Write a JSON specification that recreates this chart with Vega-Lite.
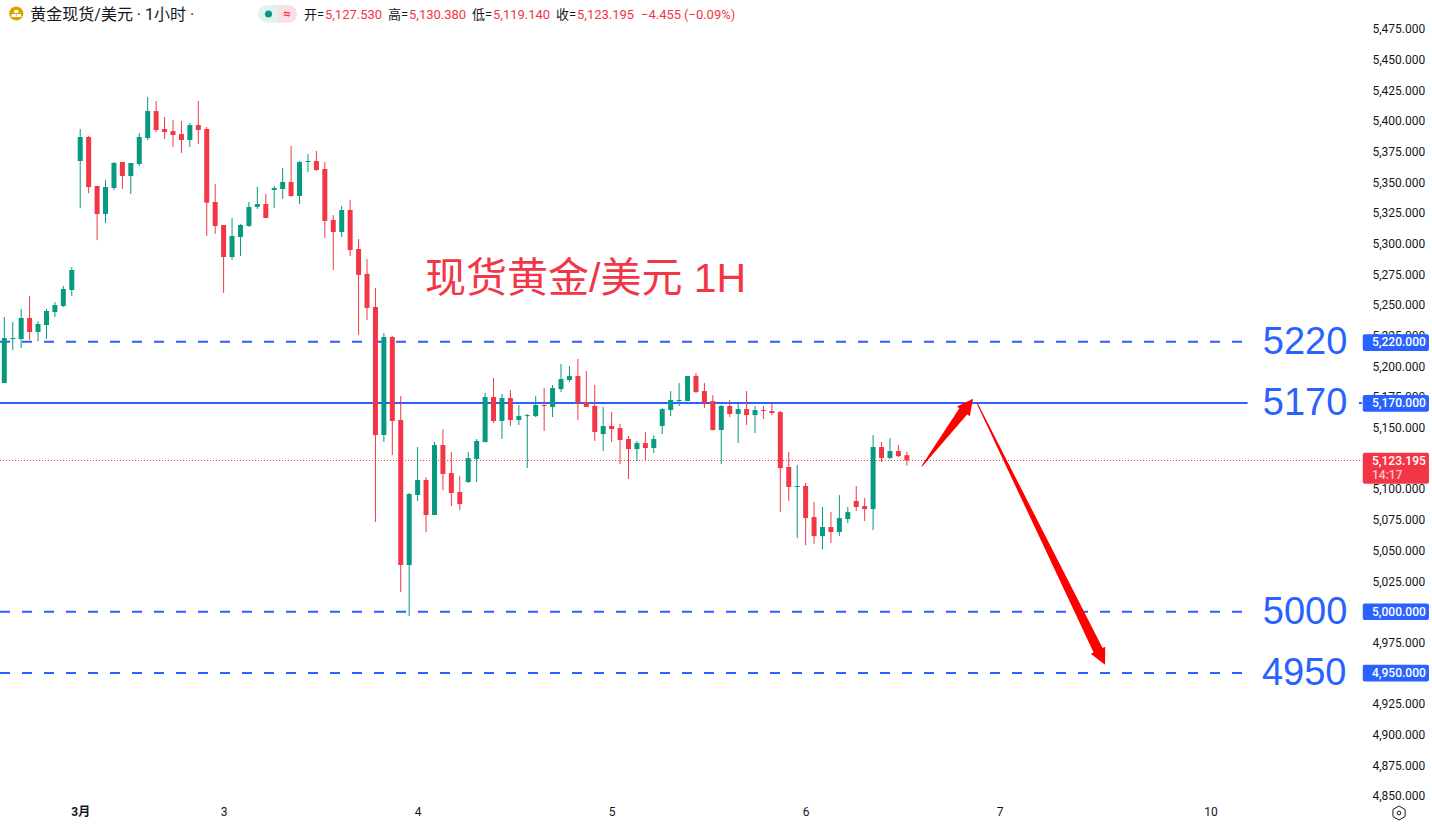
{"$schema":"https://vega.github.io/schema/vega-lite/v6.json","width":1362,"height":800,"autosize":"none","padding":{"left":0,"top":0,"right":70,"bottom":27},"background":"#ffffff","view":{"stroke":null},"config":{"text":{"font":"Roboto"},"axis":{"labelOverlap":false}},"resolve":{"axis":{"y":"independent"}},
"datasets":{"candles":[
{"i":0,"o":5186.3,"h":5240.1,"l":5186.3,"c":5223.0},{"i":1,"o":5222.2,"h":5236.0,"l":5213.2,"c":5223.0},{"i":2,"o":5222.2,"h":5246.6,"l":5214.8,"c":5239.3},{"i":3,"o":5239.3,"h":5257.2,"l":5221.4,"c":5227.9},{"i":4,"o":5227.9,"h":5236.8,"l":5220.5,"c":5234.4},{"i":5,"o":5233.6,"h":5246.6,"l":5222.2,"c":5245.0},{"i":6,"o":5244.2,"h":5252.3,"l":5240.1,"c":5249.9},{"i":7,"o":5249.1,"h":5265.4,"l":5248.2,"c":5262.9},{"i":8,"o":5262.1,"h":5280.8,"l":5257.2,"c":5278.4},{"i":9,"o":5367.2,"h":5393.3,"l":5328.9,"c":5386.8},
{"i":10,"o":5386.8,"h":5387.6,"l":5341.1,"c":5346.0},{"i":11,"o":5346.8,"h":5346.8,"l":5302.8,"c":5324.0},{"i":12,"o":5324.0,"h":5351.7,"l":5316.7,"c":5346.0},{"i":13,"o":5345.2,"h":5366.4,"l":5343.6,"c":5365.6},{"i":14,"o":5366.4,"h":5366.4,"l":5344.4,"c":5355.0},{"i":15,"o":5355.0,"h":5365.6,"l":5340.3,"c":5365.6},{"i":16,"o":5364.8,"h":5390.0,"l":5363.1,"c":5386.8},{"i":17,"o":5385.9,"h":5419.3,"l":5384.3,"c":5407.9},{"i":18,"o":5407.9,"h":5416.1,"l":5390.8,"c":5392.5},{"i":19,"o":5393.3,"h":5403.1,"l":5385.1,"c":5390.8},
{"i":20,"o":5391.6,"h":5400.6,"l":5378.6,"c":5388.4},{"i":21,"o":5389.2,"h":5399.8,"l":5373.7,"c":5384.3},{"i":22,"o":5384.3,"h":5398.2,"l":5378.6,"c":5396.5},{"i":23,"o":5396.5,"h":5416.1,"l":5381.1,"c":5392.5},{"i":24,"o":5393.3,"h":5394.9,"l":5306.1,"c":5333.3},{"i":25,"o":5333.8,"h":5348.5,"l":5307.8,"c":5314.3},{"i":26,"o":5315.1,"h":5315.1,"l":5259.7,"c":5289.0},{"i":27,"o":5289.0,"h":5320.8,"l":5286.6,"c":5306.1},{"i":28,"o":5305.3,"h":5315.9,"l":5289.8,"c":5315.1},{"i":29,"o":5314.3,"h":5333.8,"l":5313.5,"c":5329.8},
{"i":30,"o":5329.8,"h":5346.1,"l":5328.1,"c":5332.2},{"i":31,"o":5332.2,"h":5340.4,"l":5320.8,"c":5320.8},{"i":32,"o":5343.6,"h":5346.9,"l":5329.0,"c":5345.2},{"i":33,"o":5344.4,"h":5361.5,"l":5336.3,"c":5350.1},{"i":34,"o":5350.1,"h":5379.5,"l":5337.9,"c":5338.7},{"i":35,"o":5338.7,"h":5367.2,"l":5332.2,"c":5366.4},{"i":36,"o":5366.4,"h":5372.9,"l":5358.3,"c":5367.2},{"i":37,"o":5367.2,"h":5375.4,"l":5359.1,"c":5359.9},{"i":38,"o":5360.7,"h":5366.4,"l":5304.5,"c":5318.4},{"i":39,"o":5319.2,"h":5323.2,"l":5278.4,"c":5309.4},
{"i":40,"o":5309.4,"h":5330.6,"l":5305.3,"c":5327.3},{"i":41,"o":5327.3,"h":5335.5,"l":5289.8,"c":5294.7},{"i":42,"o":5295.5,"h":5303.7,"l":5225.5,"c":5274.4},{"i":43,"o":5275.2,"h":5287.4,"l":5237.7,"c":5247.5},{"i":44,"o":5248.3,"h":5263.8,"l":5073.1,"c":5144.0},{"i":45,"o":5144.0,"h":5227.1,"l":5138.3,"c":5223.8},{"i":46,"o":5223.8,"h":5224.6,"l":5127.6,"c":5155.4},{"i":47,"o":5156.2,"h":5175.7,"l":5016.0,"c":5038.0},{"i":48,"o":5038.0,"h":5096.7,"l":4996.5,"c":5095.9},{"i":49,"o":5095.1,"h":5134.2,"l":5090.2,"c":5107.3},
{"i":50,"o":5107.3,"h":5109.7,"l":5064.9,"c":5078.8},{"i":51,"o":5078.8,"h":5138.2,"l":5078.8,"c":5135.8},{"i":52,"o":5135.8,"h":5148.8,"l":5099.1,"c":5112.2},{"i":53,"o":5113.0,"h":5130.1,"l":5086.1,"c":5096.7},{"i":54,"o":5097.5,"h":5110.5,"l":5082.8,"c":5087.7},{"i":55,"o":5105.7,"h":5130.1,"l":5104.8,"c":5125.2},{"i":56,"o":5124.4,"h":5140.7,"l":5105.7,"c":5139.1},{"i":57,"o":5138.2,"h":5178.2,"l":5138.2,"c":5174.9},{"i":58,"o":5174.9,"h":5190.4,"l":5153.7,"c":5155.4},{"i":59,"o":5155.4,"h":5177.4,"l":5140.7,"c":5174.1},
{"i":60,"o":5174.1,"h":5180.6,"l":5151.3,"c":5156.2},{"i":61,"o":5156.2,"h":5168.4,"l":5152.1,"c":5159.4},{"i":62,"o":5159.4,"h":5161.1,"l":5117.1,"c":5160.2},{"i":63,"o":5159.4,"h":5175.7,"l":5158.6,"c":5168.4},{"i":64,"o":5168.4,"h":5182.2,"l":5147.2,"c":5167.6},{"i":65,"o":5166.8,"h":5184.7,"l":5158.6,"c":5182.2},{"i":66,"o":5181.4,"h":5201.8,"l":5179.0,"c":5189.6},{"i":67,"o":5188.8,"h":5200.2,"l":5187.1,"c":5192.0},{"i":68,"o":5192.0,"h":5205.9,"l":5156.2,"c":5170.0},{"i":69,"o":5170.8,"h":5196.1,"l":5166.8,"c":5166.8},
{"i":70,"o":5167.6,"h":5184.7,"l":5139.1,"c":5146.4},{"i":71,"o":5144.8,"h":5166.8,"l":5130.9,"c":5151.3},{"i":72,"o":5151.3,"h":5162.7,"l":5138.2,"c":5148.8},{"i":73,"o":5149.6,"h":5152.9,"l":5120.3,"c":5139.9},{"i":74,"o":5140.7,"h":5143.1,"l":5108.1,"c":5132.5},{"i":75,"o":5132.5,"h":5139.1,"l":5122.8,"c":5137.4},{"i":76,"o":5137.4,"h":5146.4,"l":5123.6,"c":5133.4},{"i":77,"o":5133.4,"h":5143.9,"l":5129.3,"c":5140.7},{"i":78,"o":5151.3,"h":5165.9,"l":5144.8,"c":5165.1},{"i":79,"o":5164.3,"h":5179.8,"l":5159.4,"c":5172.5},
{"i":80,"o":5171.6,"h":5186.3,"l":5167.6,"c":5172.5},{"i":81,"o":5171.6,"h":5192.0,"l":5171.6,"c":5192.0},{"i":82,"o":5192.0,"h":5194.5,"l":5178.2,"c":5179.0},{"i":83,"o":5179.8,"h":5186.3,"l":5165.9,"c":5170.0},{"i":84,"o":5171.6,"h":5176.5,"l":5148.0,"c":5148.0},{"i":85,"o":5148.0,"h":5168.4,"l":5120.3,"c":5167.6},{"i":86,"o":5167.6,"h":5172.5,"l":5158.6,"c":5161.1},{"i":87,"o":5161.1,"h":5170.0,"l":5137.4,"c":5165.1},{"i":88,"o":5165.1,"h":5179.8,"l":5152.1,"c":5160.2},{"i":89,"o":5160.2,"h":5167.6,"l":5145.6,"c":5164.3},
{"i":90,"o":5164.3,"h":5167.6,"l":5157.0,"c":5163.5},{"i":91,"o":5163.5,"h":5170.8,"l":5160.2,"c":5161.9},{"i":92,"o":5162.7,"h":5163.5,"l":5081.2,"c":5117.0},{"i":93,"o":5117.9,"h":5130.1,"l":5090.2,"c":5101.6},{"i":94,"o":5101.6,"h":5119.5,"l":5060.0,"c":5102.4},{"i":95,"o":5102.4,"h":5104.8,"l":5054.3,"c":5076.3},{"i":96,"o":5077.1,"h":5089.3,"l":5055.1,"c":5061.6},{"i":97,"o":5061.6,"h":5085.3,"l":5051.0,"c":5069.0},{"i":98,"o":5069.0,"h":5081.2,"l":5055.9,"c":5064.9},{"i":99,"o":5064.9,"h":5095.0,"l":5061.6,"c":5076.3},
{"i":100,"o":5075.5,"h":5085.3,"l":5072.2,"c":5081.2},{"i":101,"o":5090.2,"h":5102.4,"l":5082.0,"c":5085.3},{"i":102,"o":5086.1,"h":5092.6,"l":5073.9,"c":5083.6},{"i":103,"o":5083.6,"h":5143.9,"l":5066.5,"c":5134.2},{"i":104,"o":5134.2,"h":5138.2,"l":5121.9,"c":5125.2},{"i":105,"o":5125.2,"h":5141.5,"l":5124.4,"c":5130.9},{"i":106,"o":5130.9,"h":5135.8,"l":5126.0,"c":5126.8},{"i":107,"o":5127.53,"h":5130.38,"l":5119.14,"c":5123.195}
]},
"layer":[
{"data":{"values":[{"p":5220,"a":-0.51,"b":146.85},{"p":5000,"a":-0.51,"b":146.85},{"p":4950,"a":-0.51,"b":146.85}]},"mark":{"type":"rule","color":"#2962ff","strokeWidth":2,"strokeDash":[10,12]},"encoding":{"x":{"field":"a","type":"quantitative","scale":{"domain":[-0.51,160.96],"nice":false,"zero":false,"padding":0},"axis":{"orient":"bottom","values":[9,26,49,72,95,118,143],"labelExpr":"datum.value==9?'3月':datum.value==26?'3':datum.value==49?'4':datum.value==72?'5':datum.value==95?'6':datum.value==118?'7':'10'","labelFontWeight":{"expr":"datum.value==9?'bold':'normal'"},"title":null,"domain":false,"ticks":false,"grid":false,"labelPadding":6,"labelFontSize":12,"labelFont":"Roboto, Noto Sans CJK SC","labelColor":"#131722"}},"x2":{"field":"b"},"y":{"field":"p","type":"quantitative","scale":{"domain":[4846.6,5498.4],"nice":false,"zero":false,"padding":0},"axis":{"orient":"right","values":[4850,4875,4900,4925,4950,4975,5000,5025,5050,5075,5100,5125,5150,5175,5200,5225,5250,5275,5300,5325,5350,5375,5400,5425,5450,5475,5500],"format":",.3f","title":null,"domain":false,"ticks":false,"grid":false,"labelPadding":10,"labelFontSize":12,"labelFont":"Roboto","labelColor":"#131722","labelOverlap":false,"labelBound":false,"labelFlush":false}}}},
{"data":{"values":[{"p":5170,"a":-0.51,"b":147.4},{"p":5170,"a":160.6,"b":160.96}]},"mark":{"type":"rule","color":"#2962ff","strokeWidth":2},"encoding":{"x":{"field":"a","type":"quantitative"},"x2":{"field":"b"},"y":{"field":"p","type":"quantitative","axis":null}}},
{"data":{"values":[{"p":5123.195,"a":-0.51,"b":160.96}]},"mark":{"type":"rule","color":"#f23645","strokeWidth":1,"strokeDash":[1,2]},"encoding":{"x":{"field":"a","type":"quantitative"},"x2":{"field":"b"},"y":{"field":"p","type":"quantitative","axis":null}}},
{"data":{"name":"candles"},"mark":{"type":"rule","strokeWidth":1},"encoding":{"x":{"field":"i","type":"quantitative"},"y":{"field":"l","type":"quantitative","axis":null},"y2":{"field":"h"},"color":{"condition":{"test":"datum.c>=datum.o","value":"#089981"},"value":"#f23645"}}},
{"data":{"name":"candles"},"mark":{"type":"bar","size":5,"orient":"vertical"},"encoding":{"x":{"field":"i","type":"quantitative"},"y":{"field":"o","type":"quantitative","axis":null},"y2":{"field":"c"},"color":{"condition":{"test":"datum.c>=datum.o","value":"#089981"},"value":"#f23645"}}},
{"data":{"values":[{"arrow":"a","n":0,"i":108.8,"p":5118.7,"w":0},{"arrow":"a","n":1,"i":113.72,"p":5163.5,"w":10},{"arrow":"b","n":0,"i":115.32,"p":5170.05,"w":0},{"arrow":"b","n":1,"i":129.66,"p":4968.8,"w":10}]},"mark":{"type":"trail","color":"#ff0000"},"encoding":{"x":{"field":"i","type":"quantitative"},"y":{"field":"p","type":"quantitative","axis":null},"detail":{"field":"arrow"},"order":{"field":"n"},"size":{"field":"w","type":"quantitative","legend":null,"scale":{"domain":[0,20],"range":[0,20]}}}},
{"data":{"values":[{"i":114.28,"p":5168.4,"turn":37.3},{"i":130.08,"p":4962.7,"turn":154}]},"mark":{"type":"point","filled":true,"opacity":1,"color":"#ff0000","shape":"M0,-1L1,1L-1,1Z","size":256},"encoding":{"x":{"field":"i","type":"quantitative"},"y":{"field":"p","type":"quantitative","axis":null},"angle":{"field":"turn","type":"quantitative","scale":null}}},
{"data":{"values":[{"t":"现货黄金/美元 1H","i":49.88,"p":5270.3}]},"mark":{"type":"text","font":"Liberation Sans, Noto Sans CJK SC","fontSize":41,"color":"#f23645","align":"left","baseline":"middle"},"encoding":{"x":{"field":"i","type":"quantitative"},"y":{"field":"p","type":"quantitative","axis":null},"text":{"field":"t"}}},
{"data":{"values":[{"t":"5220","i":149.2,"p":5219.2},{"t":"5170","i":149.2,"p":5169.2},{"t":"5000","i":149.2,"p":4999.2},{"t":"4950","i":149.1,"p":4949.2}]},"mark":{"type":"text","font":"Liberation Sans","fontSize":38,"color":"#2962ff","align":"left","baseline":"middle"},"encoding":{"x":{"field":"i","type":"quantitative"},"y":{"field":"p","type":"quantitative","axis":null},"text":{"field":"t"}}},
{"data":{"values":[{"a":161.05,"b":168.9,"p":5226.0,"q":5212.4},{"a":161.05,"b":168.9,"p":5176.6,"q":5163.0},{"a":161.05,"b":168.9,"p":5006.8,"q":4993.2},{"a":161.05,"b":168.9,"p":4956.8,"q":4943.2}]},"mark":{"type":"rect","color":"#2962ff","cornerRadius":2},"encoding":{"x":{"field":"a","type":"quantitative"},"x2":{"field":"b"},"y":{"field":"p","type":"quantitative","axis":null},"y2":{"field":"q"}}},
{"data":{"values":[{"a":161.05,"b":168.9,"p":5129.6,"q":5104.3}]},"mark":{"type":"rect","color":"#f23645","cornerRadius":2},"encoding":{"x":{"field":"a","type":"quantitative"},"x2":{"field":"b"},"y":{"field":"p","type":"quantitative","axis":null},"y2":{"field":"q"}}},
{"data":{"values":[{"t":"5,220.000","i":162.15,"p":5220},{"t":"5,170.000","i":162.15,"p":5170},{"t":"5,000.000","i":162.15,"p":5000},{"t":"4,950.000","i":162.15,"p":4950},{"t":"5,123.195","i":162.15,"p":5123.2}]},"mark":{"type":"text","font":"Roboto","fontSize":12,"fontWeight":500,"color":"#ffffff","align":"left","baseline":"middle"},"encoding":{"x":{"field":"i","type":"quantitative"},"y":{"field":"p","type":"quantitative","axis":null},"text":{"field":"t"}}},
{"data":{"values":[{"t":"14:17","i":162.15,"p":5111.5}]},"mark":{"type":"text","font":"Roboto","fontSize":12,"fontWeight":500,"color":"#fbc7cd","align":"left","baseline":"middle"},"encoding":{"x":{"field":"i","type":"quantitative"},"y":{"field":"p","type":"quantitative","axis":null},"text":{"field":"t"}}},
{"data":{"values":[{"t":"黄金现货/美元 · 1小时 ·","i":3.08,"p":5486.2}]},"mark":{"type":"text","font":"Roboto, Noto Sans CJK SC","fontSize":16,"color":"#131722","align":"left","baseline":"middle"},"encoding":{"x":{"field":"i","type":"quantitative"},"y":{"field":"p","type":"quantitative","axis":null},"text":{"field":"t"}}},
{"data":{"values":[{"t":"开=","i":35.53,"p":5486.2},{"t":"高=","i":45.49,"p":5486.2},{"t":"低=","i":55.45,"p":5486.2},{"t":"收=","i":65.41,"p":5486.2}]},"mark":{"type":"text","font":"Roboto, Noto Sans CJK SC","fontSize":13,"color":"#131722","align":"left","baseline":"middle"},"encoding":{"x":{"field":"i","type":"quantitative"},"y":{"field":"p","type":"quantitative","axis":null},"text":{"field":"t"}}},
{"data":{"values":[{"t":"5,127.530","i":38.02,"p":5486.2},{"t":"5,130.380","i":47.98,"p":5486.2},{"t":"5,119.140","i":57.94,"p":5486.2},{"t":"5,123.195","i":67.9,"p":5486.2},{"t":"−4.455","i":75.48,"p":5486.2},{"t":"(−0.09%)","i":80.58,"p":5486.2}]},"mark":{"type":"text","font":"Roboto","fontSize":13,"color":"#f23645","align":"left","baseline":"middle"},"encoding":{"x":{"field":"i","type":"quantitative"},"y":{"field":"p","type":"quantitative","axis":null},"text":{"field":"t"}}},
{"data":{"values":[{"a":30.08,"b":32.4,"p":5494.3,"q":5479.9}]},"mark":{"type":"rect","color":"#e0f3ef","cornerRadiusTopLeft":9,"cornerRadiusBottomLeft":9},"encoding":{"x":{"field":"a","type":"quantitative"},"x2":{"field":"b"},"y":{"field":"p","type":"quantitative","axis":null},"y2":{"field":"q"}}},
{"data":{"values":[{"a":32.4,"b":34.7,"p":5494.3,"q":5479.9}]},"mark":{"type":"rect","color":"#fcdfe6","cornerRadiusTopRight":9,"cornerRadiusBottomRight":9},"encoding":{"x":{"field":"a","type":"quantitative"},"x2":{"field":"b"},"y":{"field":"p","type":"quantitative","axis":null},"y2":{"field":"q"}}},
{"data":{"values":[{"i":31.32,"p":5487}]},"mark":{"type":"point","filled":true,"opacity":1,"color":"#089981","shape":"circle","size":50},"encoding":{"x":{"field":"i","type":"quantitative"},"y":{"field":"p","type":"quantitative","axis":null}}},
{"data":{"values":[{"t":"≈","i":33.5,"p":5487}]},"mark":{"type":"text","font":"Roboto","fontSize":13,"fontWeight":"bold","color":"#f23645","align":"center","baseline":"middle"},"encoding":{"x":{"field":"i","type":"quantitative"},"y":{"field":"p","type":"quantitative","axis":null},"text":{"field":"t"}}},
{"data":{"values":[{"i":1.42,"p":5487.4}]},"mark":{"type":"point","filled":true,"opacity":1,"color":"#dba200","shape":"circle","size":201},"encoding":{"x":{"field":"i","type":"quantitative"},"y":{"field":"p","type":"quantitative","axis":null}}},
{"data":{"values":[{"i":1.42,"p":5487.4}]},"mark":{"type":"point","filled":true,"opacity":1,"color":"#ffffff","shape":"M-0.35,-0.7H0.35L0.45,-0.1H-0.45Z M-0.9,0.1H-0.1L0,0.7H-1Z M0.1,0.1H0.9L1,0.7H0Z","size":100},"encoding":{"x":{"field":"i","type":"quantitative"},"y":{"field":"p","type":"quantitative","axis":null}}},
{"data":{"values":[{"i":165.35,"p":4836}]},"mark":{"type":"point","filled":false,"opacity":1,"color":"#131722","strokeWidth":1,"shape":"M0,-1L0.87,-0.5L0.87,0.5L0,1L-0.87,0.5L-0.87,-0.5Z","size":196},"encoding":{"x":{"field":"i","type":"quantitative"},"y":{"field":"p","type":"quantitative","axis":null}}},
{"data":{"values":[{"i":165.35,"p":4836}]},"mark":{"type":"point","filled":false,"opacity":1,"color":"#131722","strokeWidth":1,"shape":"circle","size":14},"encoding":{"x":{"field":"i","type":"quantitative"},"y":{"field":"p","type":"quantitative","axis":null}}}
]}
